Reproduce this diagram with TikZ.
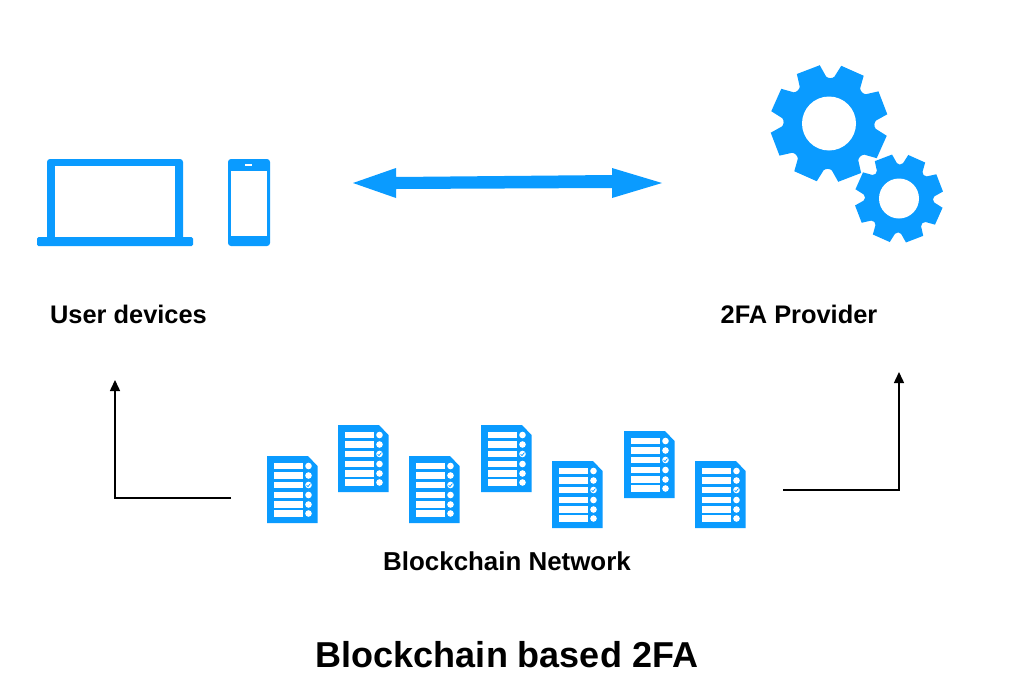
\documentclass[tikz,border=0pt]{standalone}
\usepackage{fontspec}
\setmainfont{Liberation Sans}
\usetikzlibrary{arrows.meta}
\definecolor{iconblue}{HTML}{0A9BFF}
\tikzset{
  every picture/.style={x=1pt,y=-1pt},
  label text/.style={font=\bfseries\fontsize{25.4}{28}\selectfont,text=black,inner sep=0pt,anchor=center},
  net text/.style={font=\bfseries\fontsize{25.9}{28}\selectfont,text=black,inner sep=0pt,anchor=center},
  title text/.style={font=\bfseries\fontsize{36}{40}\selectfont,text=black,inner sep=0pt,anchor=center},
  icon/.style={fill=iconblue,draw=none},
  hole/.style={fill=white,draw=none},
  connector/.style={draw=black,line width=1.5pt,-{Triangle[length=11pt,width=10pt]}}
}
\newcommand{\docicon}[3]{%
  \begin{scope}[shift={(#1,#2)}]
    \node[inner sep=0pt,minimum size=0pt] (#3) at (25,33) {};
    \fill[icon] (0,0) -- (41,0) -- (50.5,10) -- (50.5,67) -- (0,67) -- cycle;
    \foreach \yy in {10,19.5,29,39,48.5,57.5}{
      \fill[hole] (6.5,\yy-3.1) rectangle (36,\yy+3.1);
      \fill[hole] (41.5,\yy) circle (3.3);
    }
    \draw[iconblue,line width=0.7pt] (39.6,29.2) -- (41,30.6) -- (43.4,27.6);
  \end{scope}}
\newcommand{\gearshape}[6]{% x,y,outer,root,hole,name
  \begin{scope}[shift={(#1,#2)},y=1pt]
    \node[inner sep=0pt,minimum size=0pt] (#6) at (0,0) {};
    \fill[icon] (-36:#3)
      \foreach \a in {-24,21,...,291}{
        -- ({\a-12}:#3) -- ({\a+12}:#3) -- ({\a+17.5}:#4)
        .. controls ({\a+20}:#4-2) and ({\a+25}:#4-2) .. ({\a+27.5}:#4)
      } -- cycle;
    \fill[hole] (0,0) circle (#5);
  \end{scope}}
\begin{document}
\begin{tikzpicture}
\useasboundingbox (0,0) rectangle (1021,699);
\fill[white] (0,0) rectangle (1021,699);
% laptop
\fill[icon,rounded corners=3pt] (47,240) -- (47,159) -- (183,159) -- (183,240) -- cycle;
\fill[hole] (55,166) rectangle (175,238);
\fill[icon,rounded corners=1.5pt] (37,237) rectangle (193,246);
% phone
\fill[icon,rounded corners=3pt] (228,159) rectangle (270,246);
\fill[hole] (231,171) rectangle (267,236);
\fill[hole] (245,164) rectangle (252,166);
% gears
\gearshape{829}{123.5}{59}{47}{27}{biggear}
\gearshape{899}{198.5}{44.5}{35.5}{20}{smallgear}
% double arrow
\fill[icon] (353,183) -- (396,168) -- (396,177) -- (612,175) -- (612,168) -- (662,183) -- (612,198) -- (612,188) -- (396,189) -- (396,198) -- cycle;
% docs
\docicon{267}{456}{d1}
\docicon{338}{425}{d2}
\docicon{409}{456}{d3}
\docicon{481}{425}{d4}
\docicon{552}{461}{d5}
\docicon{624}{431}{d6}
\docicon{695}{461}{d7}
% connectors
\coordinate (la) at (231,498);
\coordinate (lb) at (115,380);
\coordinate (ra) at (783,490);
\coordinate (rb) at (899,372);
\draw[connector] (la) -| (lb);
\draw[connector] (ra) -| (rb);
% labels
\node[label text] (user) at (128.5,314) {User devices};
\node[label text] (prov) at (799,314) {2FA Provider};
\node[net text] (net) at (507,561) {Blockchain Network};
\node[title text] (title) at (507,654.5) {Blockchain based 2FA};
\end{tikzpicture}
\end{document}
